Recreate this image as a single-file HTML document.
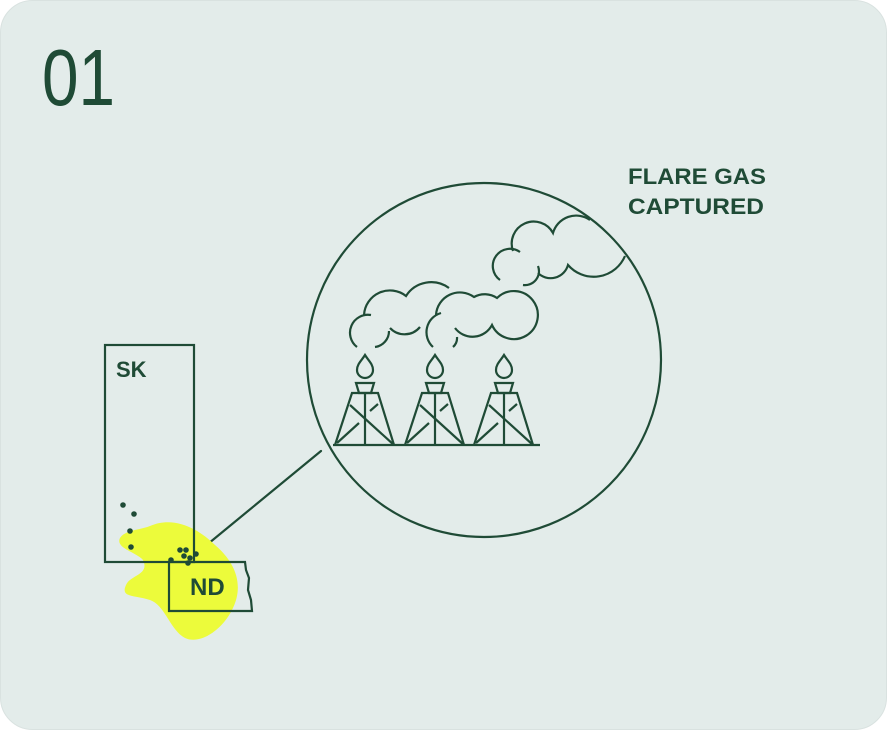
<!DOCTYPE html>
<html><head><meta charset="utf-8"><style>
html,body{margin:0;padding:0;background:#fff;}
svg{display:block;}
text{font-family:"Liberation Sans",sans-serif;fill:#1f4b36;}
</style></head><body>
<svg width="887" height="730" viewBox="0 0 887 730" xmlns="http://www.w3.org/2000/svg">
<rect x="0.5" y="0.5" width="886" height="729" rx="32" fill="#e3ecea" stroke="#d9e2e0"/>
<text x="42" y="105" font-size="80" textLength="73" lengthAdjust="spacingAndGlyphs">01</text>
<text x="628" y="184" font-size="22" font-weight="bold" textLength="138" lengthAdjust="spacingAndGlyphs">FLARE GAS</text>
<text x="628" y="214" font-size="22" font-weight="bold" textLength="136" lengthAdjust="spacingAndGlyphs">CAPTURED</text>
<g fill="none" stroke="#1f4b36" stroke-width="2.2" stroke-linecap="round" stroke-linejoin="round">
<circle cx="484" cy="360" r="177"/>
<line x1="203" y1="548" x2="321" y2="451"/>
</g>
<path d="M150,526 C175,515 200,530 215,545 C235,562 245,585 232,610 C222,630 200,645 185,638 C170,630 165,605 150,600 C135,595 120,598 126,585 C130,575 150,575 143,560 C136,552 115,548 120,538 C125,530 140,530 150,526Z" fill="#ecfb3b"/>
<g fill="none" stroke="#1f4b36" stroke-width="2.2">
<rect x="105" y="345" width="89" height="217"/>
<path d="M169,562 H245 L246,570 L249,578 L248,590 L251,600 L252,611 H169 Z"/>
</g>
<text x="116" y="377" font-size="22" font-weight="bold">SK</text>
<text x="190" y="595" font-size="24" font-weight="bold">ND</text>
<g fill="#1f4b36">
<circle cx="123" cy="505" r="2.8"/><circle cx="134" cy="514" r="2.8"/><circle cx="130" cy="531" r="2.8"/><circle cx="131" cy="547" r="2.8"/>
<circle cx="180" cy="550" r="2.8"/><circle cx="186" cy="550" r="2.8"/><circle cx="184" cy="556" r="2.8"/><circle cx="190" cy="558" r="2.8"/><circle cx="196" cy="554" r="2.8"/><circle cx="188" cy="563" r="2.8"/><circle cx="171" cy="560" r="2.8"/>
</g>
<g fill="none" stroke="#1f4b36" stroke-width="2.2" stroke-linecap="butt">
<line x1="333" y1="445" x2="540" y2="445"/>
<g id="rig">
<path d="M365,355 C362,360 357,364 357,370 A8,8 0 0 0 373,370 C373,364 368,360 365,355Z"/>
<path d="M356,383 H374 L371,393 H359 Z"/>
<path d="M335,445 L352,393 H378 L394,445"/>
<line x1="365" y1="393" x2="365" y2="445"/>
<line x1="350" y1="405" x2="394" y2="445"/>
<line x1="337" y1="443" x2="359" y2="423"/>
<line x1="370" y1="411" x2="378" y2="404"/>
</g>
<use href="#rig" x="70"/>
<use href="#rig" x="139"/>
<path d="M357,347 A18,18 0 0 1 371,315 M364,315 A26,26 0 0 1 406,296 A30,30 0 0 1 449,288"/>
<path d="M420,327 A20,20 0 0 1 390,328 M389,331 A16,16 0 0 1 375,347"/>
<path d="M433,347 A20,20 0 0 1 441,313 M436,315 A24,24 0 0 1 474,297 A22,22 0 0 1 497,298 A24,24 0 1 1 492,325 A22,22 0 0 1 455,328 M457,337 A12,12 0 0 1 453,347"/>
<path d="M500,280 A17,17 0 0 1 520,252 M513,251 A22,22 0 0 1 553,233 A24,24 0 0 1 590,220 M625,256 A34,34 0 0 1 568,265 A18,18 0 0 1 538,273 M538,266 A14,14 0 0 1 523,285"/>
</g>
</svg>
</body></html>
